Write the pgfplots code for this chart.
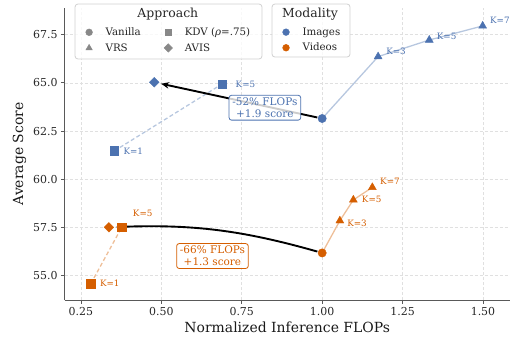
\documentclass[border=0pt]{standalone}
\usepackage{fontspec}
\setmainfont{DejaVu Serif}
\usepackage{pgfplots}
\pgfplotsset{compat=1.18}
\usetikzlibrary{arrows.meta}
\definecolor{cblue}{HTML}{4C72B0}
\definecolor{corange}{HTML}{D55E00}
\definecolor{lblue}{HTML}{B7C7DF}
\definecolor{lorange}{HTML}{EEBF99}
\definecolor{leggray}{HTML}{888888}
\newcommand{\klab}{\fontsize{8.8}{10}\selectfont}
\pgfplotsset{
  mylegimg/.style={legend image code/.code={\path[draw=none,fill=none] (0bp,0bp) -- (19bp,0bp); \draw[##1] plot coordinates {(4.5bp,0bp)};}},
}
\begin{document}
\begin{tikzpicture}
\begin{axis}[name=ax, scale only axis, width=445.5bp, height=292bp,
  xmin=0.199, xmax=1.584, ymin=53.74, ymax=68.88,
  axis x line*=bottom, axis y line*=left,
  axis line style={color=black!65, line width=0.8pt},
  tick align=outside, major tick length=3.5bp,
  tick style={color=black!65, line width=0.8pt},
  xtick={0.25,0.5,0.75,1,1.25,1.5},
  ytick={55,57.5,60,62.5,65,67.5},
  xticklabel style={/pgf/number format/.cd, fixed, fixed zerofill, precision=2},
  yticklabel style={/pgf/number format/.cd, fixed, fixed zerofill, precision=1},
  /pgf/number format/assume math mode=true,
  ticklabel style={font=\fontsize{11}{13}\selectfont, color=black!85},
  grid=major, grid style={dash pattern=on 3bp off 2bp, black!12, line width=0.6pt},
  xlabel={Normalized Inference FLOPs}, ylabel={Average Score},
  label style={font=\fontsize{14}{16}\selectfont, color=black!90},
  clip=false,
  legend columns=2, legend cell align=left,
  legend style={at={(rel axis cs:0.038,0.947)}, anchor=north west, draw=none, fill=none,
    font=\fontsize{10.3}{12}\selectfont, text=black!85, row sep=2.5bp,
    /tikz/every even column/.append style={column sep=21bp}},
]
% legend images (Approach)
\addlegendimage{mylegimg, only marks, mark=*, mark size=3.4, leggray}\addlegendentry{Vanilla}
\addlegendimage{mylegimg, only marks, mark=square*, mark size=3.2, leggray}\addlegendentry{KDV (\textit{ρ}=.75)}
\addlegendimage{mylegimg, only marks, mark=triangle*, mark size=3.7, leggray}\addlegendentry{VRS}
\addlegendimage{mylegimg, only marks, mark=square*, mark size=3.0, mark options={rotate=45}, leggray}\addlegendentry{AVIS}

% Images lines
\addplot[lblue, line width=1.3pt, forget plot] coordinates {(1.0,63.15) (1.174,66.36) (1.333,67.22) (1.499,67.95)};
\addplot[lblue, line width=1.3pt, dash pattern=on 4bp off 2.5bp, forget plot] coordinates {(0.354,61.47) (0.689,64.94)};
% Videos lines
\addplot[lorange, line width=1.3pt, forget plot] coordinates {(1.0,56.18) (1.055,57.85) (1.097,58.93) (1.156,59.58)};
\addplot[lorange, line width=1.3pt, dash pattern=on 4bp off 2.5bp, forget plot] coordinates {(0.281,54.59) (0.377,57.51)};

% Images markers
\addplot[only marks, mark=*, mark size=4.2, cblue, forget plot] coordinates {(1.0,63.15)};
\addplot[only marks, mark=triangle*, mark size=4.6, cblue, forget plot] coordinates {(1.174,66.36) (1.333,67.22) (1.499,67.95)};
\addplot[only marks, mark=square*, mark size=4.3, cblue, forget plot] coordinates {(0.354,61.47) (0.689,64.94)};
\addplot[only marks, mark=square*, mark size=3.4, mark options={rotate=45}, cblue, forget plot] coordinates {(0.478,65.03)};
% Videos markers
\addplot[only marks, mark=*, mark size=4.2, corange, forget plot] coordinates {(1.0,56.18)};
\addplot[only marks, mark=triangle*, mark size=4.6, corange, forget plot] coordinates {(1.055,57.85) (1.097,58.93) (1.156,59.58)};
\addplot[only marks, mark=square*, mark size=4.3, corange, forget plot] coordinates {(0.281,54.59) (0.377,57.51)};
\addplot[only marks, mark=square*, mark size=3.4, mark options={rotate=45}, corange, forget plot] coordinates {(0.337,57.51)};

% K labels
\node[anchor=west, inner sep=0, text=cblue, font=\klab, xshift=9bp] at (axis cs:0.354,61.47) {K=1};
\node[anchor=west, inner sep=0, text=cblue, font=\klab, xshift=13.4bp] at (axis cs:0.689,64.94) {K=5};
\node[anchor=west, inner sep=0, text=cblue, font=\klab, xshift=8bp, yshift=5.7bp] at (axis cs:1.174,66.36) {K=3};
\node[anchor=west, inner sep=0, text=cblue, font=\klab, xshift=7.4bp, yshift=3.3bp] at (axis cs:1.333,67.22) {K=5};
\node[anchor=west, inner sep=0, text=cblue, font=\klab, xshift=7.3bp, yshift=5.3bp] at (axis cs:1.499,67.95) {K=7};
\node[anchor=west, inner sep=0, text=corange, font=\klab, xshift=9bp] at (axis cs:0.281,54.59) {K=1};
\node[anchor=west, inner sep=0, text=corange, font=\klab, xshift=11bp, yshift=14bp] at (axis cs:0.377,57.51) {K=5};
\node[anchor=west, inner sep=0, text=corange, font=\klab, xshift=7.3bp, yshift=-2.7bp] at (axis cs:1.055,57.85) {K=3};
\node[anchor=west, inner sep=0, text=corange, font=\klab, xshift=8.4bp, yshift=1bp] at (axis cs:1.097,58.93) {K=5};
\node[anchor=west, inner sep=0, text=corange, font=\klab, xshift=7.7bp, yshift=5.6bp] at (axis cs:1.156,59.58) {K=7};

% arrows
\draw[-{Stealth[length=8bp,width=6.5bp]}, line width=1.9pt, shorten <=5bp, shorten >=7bp] (axis cs:1.0,63.15) -- (axis cs:0.478,65.03);
\draw[-{Stealth[length=8bp,width=6.5bp]}, line width=1.9pt, shorten <=5bp, shorten >=7bp] (axis cs:1.0,56.18) to[bend right=9] (axis cs:0.337,57.51);

% annotation boxes
\node[draw=cblue, text=cblue, fill=white, fill opacity=0.8, text opacity=1, rounded corners=2.5bp, align=center, inner xsep=3.3bp, inner ysep=2.5bp, font=\fontsize{10.5}{12}\selectfont, line width=0.8pt] at (axis cs:0.822,63.71) {-52\% FLOPs\\+1.9 score};
\node[draw=corange, text=corange, fill=white, fill opacity=0.8, text opacity=1, rounded corners=2.5bp, align=center, inner xsep=3.3bp, inner ysep=2.5bp, font=\fontsize{10.5}{12}\selectfont, line width=0.8pt] at (axis cs:0.659,56.02) {-66\% FLOPs\\+1.3 score};

% legend frames
\draw[black!18, line width=0.8pt, rounded corners=3bp, fill=white, fill opacity=0.8] (rel axis cs:0.0236,1.0137) rectangle (rel axis cs:0.4433,0.8253);
\node[font=\fontsize{12.5}{14}\selectfont, text=black!85] at (rel axis cs:0.232,0.979) {Approach};
\draw[black!18, line width=0.8pt, rounded corners=3bp, fill=white, fill opacity=0.8] (rel axis cs:0.4658,1.0137) rectangle (rel axis cs:0.6409,0.832);
\node[font=\fontsize{12.5}{14}\selectfont, text=black!85] at (rel axis cs:0.551,0.979) {Modality};
\end{axis}
\begin{axis}[scale only axis, width=445.5bp, height=292bp,
  xmin=0.199, xmax=1.584, ymin=53.74, ymax=68.88, hide axis,
  legend cell align=left,
  legend style={at={(rel axis cs:0.480,0.947)}, anchor=north west, draw=none, fill=none,
    font=\fontsize{10.3}{12}\selectfont, text=black!85, row sep=2.5bp},
]
\addlegendimage{mylegimg, only marks, mark=*, mark size=3.4, cblue}\addlegendentry{Images}
\addlegendimage{mylegimg, only marks, mark=*, mark size=3.4, corange}\addlegendentry{Videos}
\addplot[draw=none, forget plot] coordinates {(0.5,60)};
\end{axis}
\pgfresetboundingbox
\path ([shift={(-64.5bp,-41bp)}]ax.south west) rectangle ([shift={(0bp,8bp)}]ax.north east);
\end{tikzpicture}
\end{document}
